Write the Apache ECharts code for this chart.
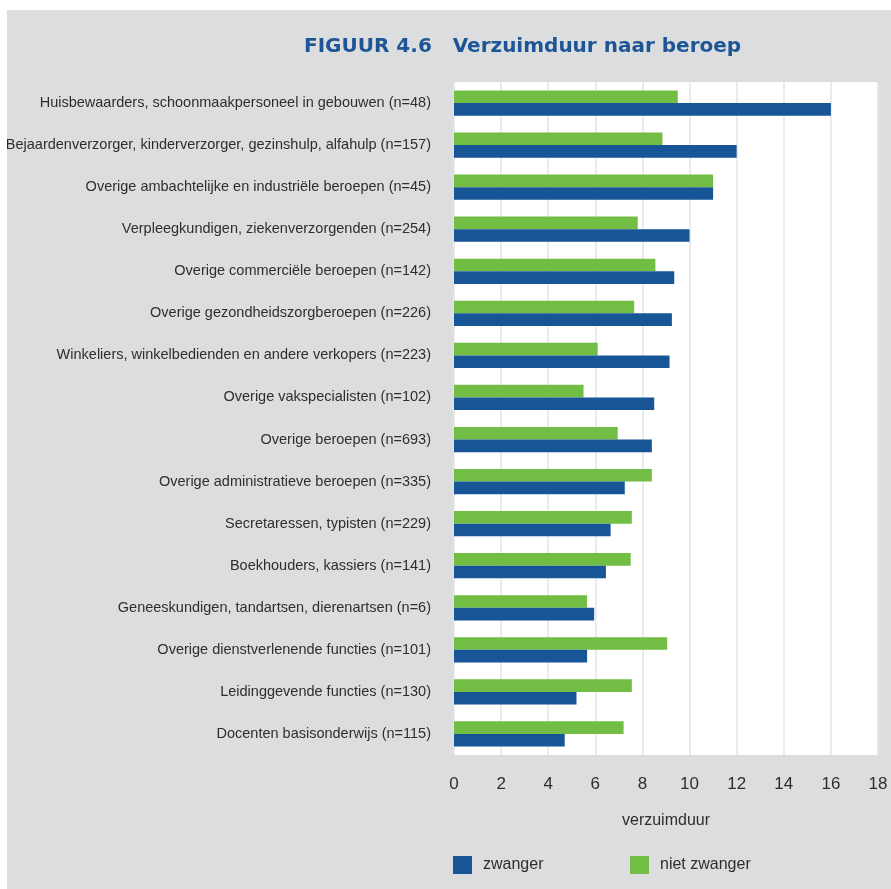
<!DOCTYPE html>
<html>
<head>
<meta charset="utf-8">
<script src="https://cdn.jsdelivr.net/npm/echarts@6/dist/echarts.min.js"></script>
<style>
  html, body { margin: 0; padding: 0; background: #ffffff; }
  #chart { position: absolute; left: 7px; top: 10px; width: 884px; height: 879px; background: #dcdddf; }
</style>
</head>
<body>
<div id="chart"></div>
<script>
// Occupations, top to bottom
const categories = [
  'Huisbewaarders, schoonmaakpersoneel in gebouwen (n=48)',
  'Bejaardenverzorger, kinderverzorger, gezinshulp, alfahulp (n=157)',
  'Overige ambachtelijke en industriële beroepen (n=45)',
  'Verpleegkundigen, ziekenverzorgenden (n=254)',
  'Overige commerciële beroepen (n=142)',
  'Overige gezondheidszorgberoepen (n=226)',
  'Winkeliers, winkelbedienden en andere verkopers (n=223)',
  'Overige vakspecialisten (n=102)',
  'Overige beroepen (n=693)',
  'Overige administratieve beroepen (n=335)',
  'Secretaressen, typisten (n=229)',
  'Boekhouders, kassiers (n=141)',
  'Geneeskundigen, tandartsen, dierenartsen (n=6)',
  'Overige dienstverlenende functies (n=101)',
  'Leidinggevende functies (n=130)',
  'Docenten basisonderwijs (n=115)'
];
// Average absence duration
const zwanger = [16.0, 12.0, 11.0, 10.0, 9.35, 9.25, 9.15, 8.5, 8.4, 7.25, 6.65, 6.45, 5.95, 5.65, 5.2, 4.7];
const nietZwanger = [9.5, 8.85, 11.0, 7.8, 8.55, 7.65, 6.1, 5.5, 6.95, 8.4, 7.55, 7.5, 5.65, 9.05, 7.55, 7.2];
const xTicks = [0, 2, 4, 6, 8, 10, 12, 14, 16, 18];

const blue = '#175597';
const green = '#72be44';
const textColor = '#2e2e2e';

const legendText = { fontFamily: 'Liberation Sans', fontSize: 16, color: textColor, padding: [0, 0, 0, 6] };

const chart = echarts.init(document.getElementById('chart'));
chart.setOption({
  animation: false,
  backgroundColor: '#dcdddf',
  title: {
    text: 'FIGUUR 4.6   Verzuimduur naar beroep',
    left: 292,
    top: 22,
    textStyle: { fontFamily: 'DejaVu Sans', fontWeight: 'bold', fontSize: 20, color: '#1d5596' }
  },
  legend: [
    {
      data: ['zwanger'],
      left: 441, top: 841,
      itemWidth: 19, itemHeight: 18,
      icon: 'rect',
      textStyle: legendText
    },
    {
      data: ['niet zwanger'],
      left: 618, top: 841,
      itemWidth: 19, itemHeight: 18,
      icon: 'rect',
      textStyle: legendText
    }
  ],
  grid: {
    left: 447, right: 13, top: 72, bottom: 134,
    containLabel: false, outerBoundsMode: 'none',
    show: true, backgroundColor: '#ffffff', borderWidth: 0
  },
  xAxis: {
    type: 'value',
    min: xTicks[0],
    max: xTicks[xTicks.length - 1],
    interval: 2,
    name: 'verzuimduur',
    nameLocation: 'middle',
    nameGap: 58,
    nameTextStyle: { fontFamily: 'Liberation Sans', fontSize: 16, color: textColor },
    axisLine: { show: false },
    axisTick: { show: false },
    axisLabel: { margin: 21, fontFamily: 'Liberation Sans', fontSize: 17, color: textColor },
    splitLine: { lineStyle: { color: '#e4e4e4', width: 1.5 } }
  },
  yAxis: {
    type: 'category',
    data: categories,
    inverse: true,
    axisLine: { show: false },
    axisTick: { show: false },
    axisLabel: { margin: 23, fontFamily: 'Liberation Sans', fontSize: 14.5, color: textColor }
  },
  series: [
    {
      name: 'niet zwanger', type: 'bar', data: nietZwanger,
      itemStyle: { color: green }, barGap: '0%', barCategoryGap: '40%'
    },
    {
      name: 'zwanger', type: 'bar', data: zwanger,
      itemStyle: { color: blue }, barGap: '0%', barCategoryGap: '40%'
    }
  ]
});
</script>
</body>
</html>
